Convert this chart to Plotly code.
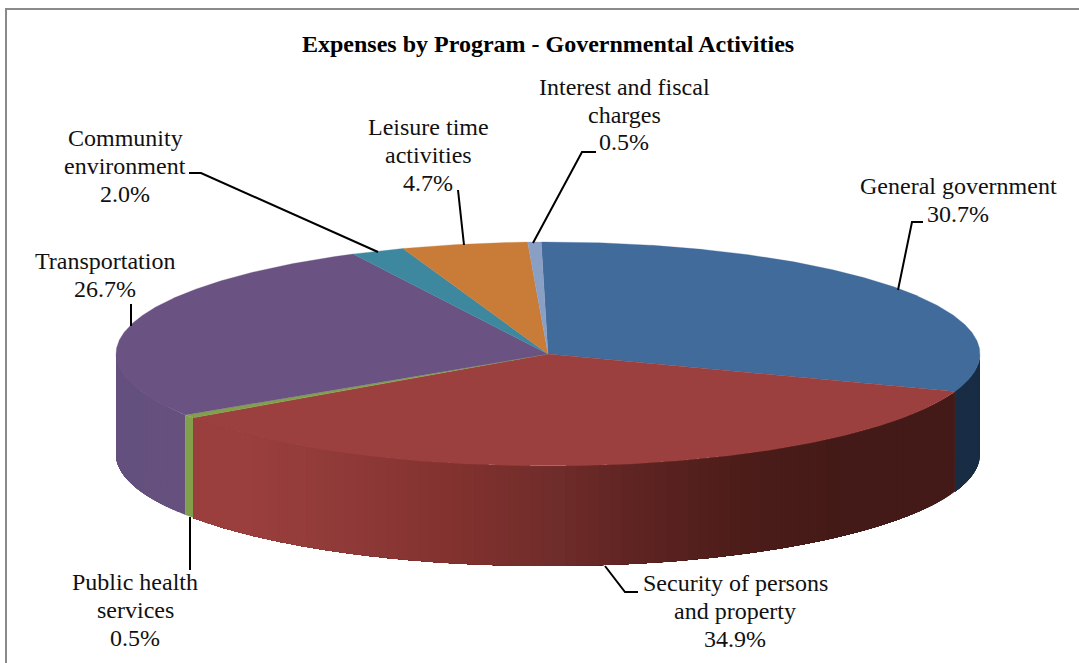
import numpy as np
import plotly.graph_objects as go

# ---- data ----
categories = ["General government", "Security of persons and property", "Public health services",
              "Transportation", "Community environment", "Leisure time activities",
              "Interest and fiscal charges"]
shares = [30.7, 34.9, 0.5, 26.7, 2.0, 4.7, 0.5]
label_lines = [["General government", "30.7%"], ["Security of persons", "and property", "34.9%"],
               ["Public health", "services", "0.5%"], ["Transportation", "26.7%"],
               ["Community", "environment", "2.0%"], ["Leisure time", "activities", "4.7%"],
               ["Interest and fiscal", "charges", "0.5%"]]
title_text = "Expenses by Program - Governmental Activities"

# ---- style / layout ----
W, H = 1079, 663
CX, CY, RX, RY, DEPTH = 548, 354, 432, 112, 100
START_DEG = -0.9
LINE_STEP = 27.8
top_colors = ["#416B9B", "#9B403E", "#82A04C", "#6A5383", "#3D889E", "#C97B38", "#8A9FC4"]
side_stops = {
    0: [(548, "#182C44"), (1079, "#182C44")],
    1: [(193, "#9B403E"), (250, "#9A3F3D"), (330, "#923C3A"), (450, "#83322F"), (540, "#732E2C"),
        (640, "#5E2422"), (740, "#4D1D1A"), (850, "#431A17"), (957, "#431A17")],
    2: [(0, "#82A04C"), (1079, "#82A04C")],
    3: [(116, "#64507E"), (193, "#67517F")],
}
label_pos = [(958, 200), (735, 611), (135, 610), (105, 275), (125, 166), (428, 155), (624, 114.5)]
leaders = [
    [(923, 222), (912, 222), (898, 290)],
    [(605, 566), (625, 592), (638, 592)],
    [(190, 517), (190, 570)],
    [(131, 326), (131, 304)],
    [(189, 173), (201, 173), (378, 252)],
    [(458, 190), (464, 245)],
    [(596, 152), (582, 152), (533, 243)],
]


def px(t):
    return CX + RX * np.sin(np.radians(t))


def py(t):
    return CY - RY * np.cos(np.radians(t))


def hex2rgb(h):
    return [int(h[i:i + 2], 16) for i in (1, 3, 5)]


def side_color(stops, x):
    xs = [s[0] for s in stops]
    cs = np.array([hex2rgb(s[1]) for s in stops], float)
    c = [np.interp(x, xs, cs[:, k]) for k in range(3)]
    return "rgb(%d,%d,%d)" % tuple(c)


edges = START_DEG + np.concatenate([[0], np.cumsum(shares)]) * 3.6
fig = go.Figure()

# side wall: visible front half only. Each band runs to the far end of its slice and the
# next band paints over it, so no seams open between neighbouring bands.
for i in range(len(shares)):
    a, b = max(edges[i], 90), min(edges[i + 1], 270)
    if a >= b:
        continue
    n = max(1, int((b - a) / 1.5))
    ts = np.linspace(a, b, n + 1)
    for t0 in ts[:-1]:
        seg = np.linspace(t0, b, max(3, int((b - t0) * 2)))
        xs = np.concatenate([px(seg), px(seg[::-1])])
        ys = np.concatenate([py(seg), py(seg[::-1]) + DEPTH])
        col = side_color(side_stops[i], float(px(t0 + (b - a) / n / 2)))
        fig.add_trace(go.Scatter(x=xs, y=ys, mode="none", fill="toself", fillcolor=col,
                                 hoverinfo="skip", showlegend=False))

# top face
for i, cat in enumerate(categories):
    ts = np.linspace(edges[i], edges[i + 1], max(3, int(shares[i] * 8)))
    xs = np.concatenate([[CX], px(ts), [CX]])
    ys = np.concatenate([[CY], py(ts), [CY]])
    fig.add_trace(go.Scatter(x=xs, y=ys, mode="lines", fill="toself", fillcolor=top_colors[i],
                             line=dict(color=top_colors[i], width=0.3), name=cat,
                             hoverinfo="name", showlegend=False))

# leader lines
for pts in leaders:
    fig.add_trace(go.Scatter(x=[p[0] for p in pts], y=[p[1] for p in pts], mode="lines",
                             line=dict(color="#000000", width=2), hoverinfo="skip", showlegend=False))

FONT = "Liberation Serif"
annotations = []
for lines, (x, y) in zip(label_lines, label_pos):
    for k, line in enumerate(lines):
        annotations.append(dict(x=x, y=y + (k - (len(lines) - 1) / 2) * LINE_STEP, text=line, showarrow=False,
                                xanchor="center", yanchor="middle",
                                font=dict(family=FONT, size=24, color="#111111")))
annotations.append(dict(x=548, y=44, text="<b>%s</b>" % title_text, showarrow=False, xanchor="center",
                        yanchor="middle", font=dict(family=FONT, size=24, color="#000000")))

fig.update_layout(
    width=W, height=H, margin=dict(l=0, r=0, t=0, b=0), paper_bgcolor="#FFFFFF", plot_bgcolor="#FFFFFF",
    xaxis=dict(range=[0, W], visible=False, fixedrange=True),
    yaxis=dict(range=[H, 0], visible=False, fixedrange=True),
    annotations=annotations,
    shapes=[
        dict(type="line", x0=6, x1=6, y0=8, y1=H, line=dict(color="#8A8A8A", width=2)),
        dict(type="line", x0=5, x1=W, y0=9, y1=9, line=dict(color="#8A8A8A", width=2)),
    ],
)
fig.write_html("out.html", config={"displayModeBar": False},
               post_script="document.body.style.margin='0';document.body.style.overflow='hidden';")
